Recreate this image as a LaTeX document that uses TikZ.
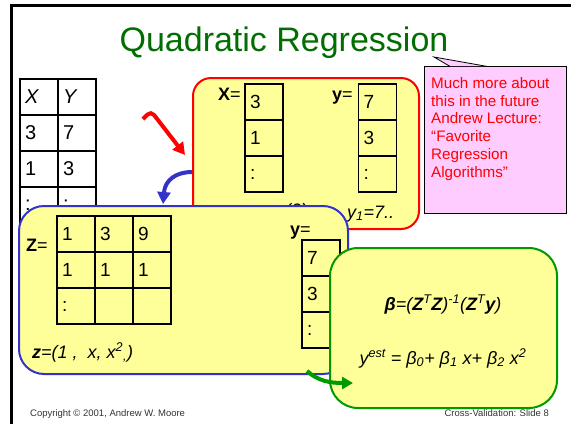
\documentclass[tikz,border=0pt]{standalone}
\usepackage{fontspec}
\setmainfont{Liberation Sans}
\usetikzlibrary{arrows.meta, positioning, calc}

\definecolor{titlegreen}{RGB}{0,110,0}
\definecolor{notepink}{RGB}{255,204,255}
\definecolor{boxyellow}{RGB}{255,255,153}
\definecolor{zblue}{RGB}{51,51,204}
\definecolor{fitgreen}{RGB}{0,153,0}

\tikzset{
  panel/.style={draw, line width=2pt, fill=boxyellow, inner sep=0pt},
  cell/.style={draw, line width=1.2pt, minimum height=36pt, text width=28pt, inner xsep=5pt, align=left, font=\fontsize{19}{22}\selectfont},
  lab/.style={anchor=base west, inner sep=0pt, font=\fontsize{18}{21}\selectfont},
  fatarrow/.style={line width=4pt, -{Triangle[length=12pt,width=13pt]}},
}

\begin{document}
\begin{tikzpicture}[x=1pt, y=-1pt]
    \useasboundingbox (0,0) rectangle (571,424);
    % slide frame and title
    \draw[line width=3pt] (11.5,424) -- (11.5,5.5) -- (571,5.5);
    \node[font=\fontsize{34}{40}\selectfont, text=titlegreen, anchor=base, inner sep=0pt] (title) at (284,51) {Quadratic Regression};

    % callout note
    \node[draw, line width=0.8pt, fill=notepink, minimum width=142pt, minimum height=147pt] (note) at (495,139.5) {};
    \coordinate (tip) at (434,57);
    \fill[notepink] (450,66) -- (tip) -- (487,66) -- cycle;
    \draw[line width=0.8pt] (450,66.4) -- (tip) -- (487,66.4);
    \node[anchor=north west, align=left, inner sep=0pt, text=red, font=\fontsize{15.2}{17.8}\selectfont] (notetext) at (431,77) {Much more about\\this in the future\\Andrew Lecture:\\“Favorite\\Regression\\Algorithms”};

    % data table
    \foreach \a/\b [count=\r] in {\textit{X}/\textit{Y}, 3/7, 1/3, :/:} {
        \node[cell, font=\fontsize{20}{23}\selectfont] (xy-\r-1) at (39,61+36*\r) {\a};
        \node[cell, font=\fontsize{20}{23}\selectfont] (xy-\r-2) at (77,61+36*\r) {\b};
    }

    % linear setup (red)
    \node[panel, draw=red, rounded corners=18pt, minimum width=226pt, minimum height=151pt] (linbox) at (306,153.5) {};
    \node[lab] (xlab) at (218,100) {\textbf{X}=};
    \node[lab] (ylab) at (332,100) {\textbf{y}=};
    \foreach \u/\v [count=\r] in {3/7, 1/3, :/:} {
        \node[cell] (xcol-\r) at (264,66+36*\r) {\u};
        \node[cell] (ycol-\r) at (377.5,66+36*\r) {\v};
    }
    \node[lab, font=\fontsize{18}{21}\selectfont\itshape] (xone) at (258,216.5) {x\textsubscript{1}=(3)..};
    \node[lab, font=\fontsize{18}{21}\selectfont\itshape] (yone) at (347,218) {y\textsubscript{1}=7..};

    % arrows between steps
    \coordinate (rtail) at (143,119);
    \coordinate (rpeak) at (151,111);
    \coordinate (rtip) at (185,155);
    \draw[fatarrow, red, rounded corners=5pt] (rtail) -- (rpeak) -- (rtip);
    \coordinate (bstart) at (linbox.west |- 0,172);
    \coordinate (btip) at (163,204);
    \draw[fatarrow, zblue] (bstart) .. controls (176,172) and (165,180) .. (btip);

    % quadratic setup (blue)
    \node[panel, draw=zblue, rounded corners=25pt, minimum width=329pt, minimum height=168pt] (quadbox) at (183.5,290) {};
    \node[lab] (zlab) at (26,251) {\textbf{Z}=};
    \foreach \a/\b/\c [count=\r] in {1/3/9, 1/1/1, :/{}/{}} {
        \node[cell] (z-\r-1) at (76,198+36*\r) {\a};
        \node[cell] (z-\r-2) at (114,198+36*\r) {\b};
        \node[cell] (z-\r-3) at (152,198+36*\r) {\c};
    }
    \node[lab] (yzlab) at (290,235) {\textbf{y}=};
    \foreach \v [count=\r] in {7,3,:} {
        \node[cell] (yz-\r) at (321,222+36*\r) {\v};
    }
    \node[lab, font=\fontsize{18}{21}\selectfont\itshape] (zrow) at (32,358) {\textbf{z}=(1 ,\ \ x, x\textsuperscript{2}\textsubscript{,})};

    % solution (green)
    \node[panel, draw=fitgreen, rounded corners=28pt, minimum width=227pt, minimum height=160pt] (fitbox) at (443.5,328) {};
    \node[anchor=base, inner sep=0pt, font=\fontsize{18}{21}\selectfont\itshape] (beta) at (443,310) {\textbf{β}=(\textbf{Z}\textsuperscript{T}\textbf{Z})\textsuperscript{-1}(\textbf{Z}\textsuperscript{T}\textbf{y})};
    \node[anchor=base, inner sep=0pt, font=\fontsize{18}{21}\selectfont\itshape] (yest) at (443,364) {y\textsuperscript{est} = β\textsubscript{0}+ β\textsubscript{1} x+ β\textsubscript{2} x\textsuperscript{2}};
    \coordinate (gtail) at (307,371);
    \coordinate (gtip) at (353,383);
    \draw[fatarrow, fitgreen, -{Triangle[length=11pt,width=12pt]}] (gtail) .. controls (318,381) and (330,383) .. (gtip);

    % footer
    \node[anchor=base west, inner sep=0pt, text=black!80, font=\fontsize{9.5}{11}\selectfont] (copy) at (30,416.5) {Copyright © 2001, Andrew W. Moore};
    \node[anchor=base east, inner sep=0pt, text=black!80, font=\fontsize{9.5}{11}\selectfont] (slide) at (549,416.5) {Cross-Validation: Slide 8};
\end{tikzpicture}
\end{document}
